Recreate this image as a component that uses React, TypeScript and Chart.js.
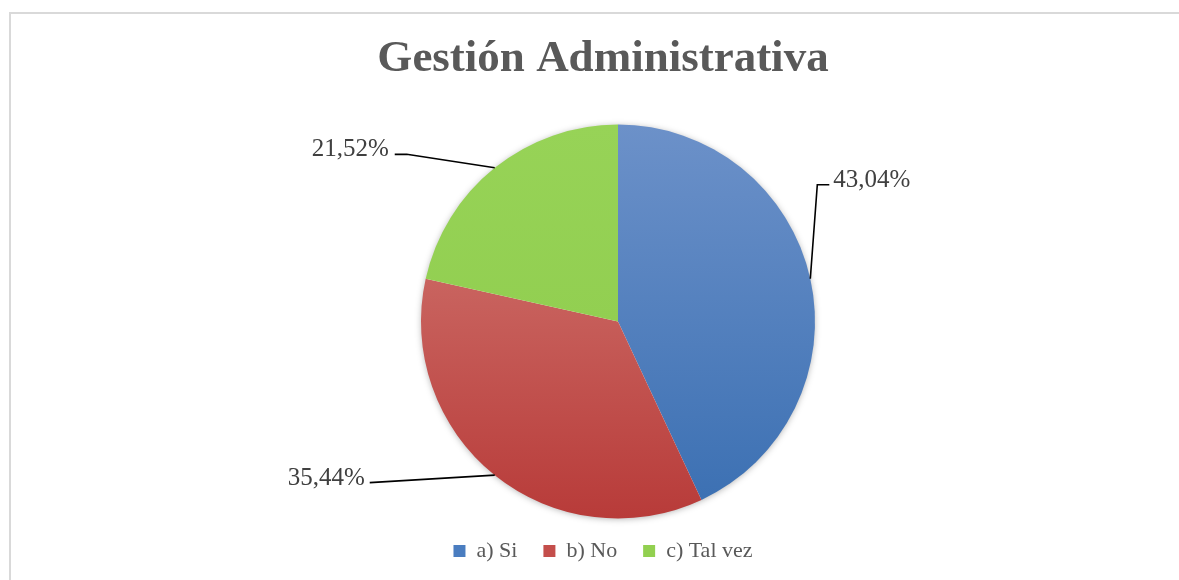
import React, { useEffect, useRef } from "react";
import { Chart, registerables } from "chart.js";

Chart.register(...registerables);

// ---- data ----
const categories = ["a) Si", "b) No", "c) Tal vez"];
const responses = [34, 28, 17];
const titleText = "Gestión Administrativa";

// ---- styles ----
const gradTop = ["#6c91c9", "#d47e78", "#97d357"];
const gradBottom = ["#3a6fb2", "#b83b39", "#8dcb4b"];
const legendColors = ["#4a7dc0", "#c44e4b", "#92d050"];
const FONT = "'Liberation Serif', 'Times New Roman', serif";
const PIE_RADIUS = 197;

// leader-line geometry relative to the slice's outer midpoint (style only)
const leaderStyle = [
  { pts: [[7, -94], [19, -94]], tx: 23, ty: -92, align: "left" },
  { pts: [[-125, 7.5]], tx: -130, ty: 9.5, align: "right" },
  { pts: [[-88, -13.5], [-100, -13.5]], tx: -106, ty: -11.5, align: "right" },
];

const fmtPct = (v: number, total: number) =>
  (v / total * 100).toFixed(2).replace(".", ",") + "%";

const framePlugin = {
  id: "frame",
  beforeDraw(chart: any) {
    const ctx = chart.ctx;
    ctx.save();
    ctx.fillStyle = "#ffffff";
    ctx.fillRect(0, 0, chart.width, chart.height);
    ctx.strokeStyle = "#d9d9d9";
    ctx.lineWidth = 2;
    ctx.beginPath();
    ctx.moveTo(10, chart.height);
    ctx.lineTo(10, 13);
    ctx.lineTo(chart.width, 13);
    ctx.stroke();
    ctx.restore();
  },
};

const shiftPlugin = {
  id: "shiftArea",
  afterLayout(chart: any) {
    chart.chartArea.left += 30;
    chart.chartArea.width = chart.chartArea.right - chart.chartArea.left;
  },
};

const shadowPlugin = {
  id: "pieShadow",
  beforeDatasetsDraw(chart: any) {
    const meta = chart.getDatasetMeta(0);
    const el = meta.data[0];
    if (!el) return;
    const ctx = chart.ctx;
    ctx.save();
    ctx.shadowColor = "rgba(0,0,0,0.35)";
    ctx.shadowBlur = 7;
    ctx.shadowOffsetX = 0;
    ctx.shadowOffsetY = 1;
    ctx.fillStyle = "#ffffff";
    ctx.beginPath();
    ctx.arc(el.x, el.y, el.outerRadius - 1, 0, Math.PI * 2);
    ctx.fill();
    ctx.restore();
  },
};

const leaderPlugin = {
  id: "leaders",
  afterDatasetsDraw(chart: any) {
    const ctx = chart.ctx;
    const meta = chart.getDatasetMeta(0);
    const data = chart.data.datasets[0].data as number[];
    const total = data.reduce((a, b) => a + b, 0);
    meta.data.forEach((arc: any, i: number) => {
      const { x, y, startAngle, endAngle, outerRadius } = arc.getProps(
        ["x", "y", "startAngle", "endAngle", "outerRadius"],
        true
      );
      const mid = (startAngle + endAngle) / 2;
      const ex = x + Math.cos(mid) * outerRadius;
      const ey = y + Math.sin(mid) * outerRadius;
      const st = leaderStyle[i];
      ctx.save();
      ctx.strokeStyle = "#000000";
      ctx.lineWidth = 1.6;
      ctx.beginPath();
      ctx.moveTo(ex, ey);
      st.pts.forEach((p) => ctx.lineTo(ex + p[0], ey + p[1]));
      ctx.stroke();
      ctx.fillStyle = "#404040";
      ctx.font = `25px ${FONT}`;
      ctx.textAlign = st.align as CanvasTextAlign;
      ctx.textBaseline = "alphabetic";
      ctx.fillText(fmtPct(data[i], total), ex + st.tx, ey + st.ty);
      ctx.restore();
    });
  },
};

export default function App() {
  const ref = useRef<HTMLCanvasElement | null>(null);

  useEffect(() => {
    if (!ref.current) return;
    const chart = new Chart(ref.current, {
      type: "pie",
      data: {
        labels: categories,
        datasets: [
          {
            data: responses,
            borderWidth: 0,
            radius: PIE_RADIUS,
            backgroundColor: (c: any) => {
              const ch = c.chart;
              const area = ch.chartArea;
              const i = c.dataIndex ?? 0;
              if (!area) return legendColors[i];
              const cy = (area.top + area.bottom) / 2;
              const g = ch.ctx.createLinearGradient(0, cy - PIE_RADIUS, 0, cy + PIE_RADIUS);
              g.addColorStop(0, gradTop[i]);
              g.addColorStop(1, gradBottom[i]);
              return g;
            },
          },
        ],
      },
      options: {
        responsive: false,
        maintainAspectRatio: false,
        animation: false,
        devicePixelRatio: 1,
        layout: { padding: { top: 20, bottom: 8, left: 37, right: 10 } },
        plugins: {
          title: {
            display: true,
            text: titleText,
            color: "#595959",
            font: { family: FONT, size: 45, weight: "bold", lineHeight: 1.2 },
            padding: { top: 12, bottom: 43 },
          },
          legend: {
            display: true,
            position: "bottom",
            labels: {
              boxWidth: 12,
              boxHeight: 12,
              padding: 26,
              color: "#595959",
              font: { family: FONT, size: 22 },
              generateLabels: (ch: any) =>
                ch.data.labels.map((t: string, i: number) => ({
                  text: t,
                  fillStyle: legendColors[i],
                  strokeStyle: legendColors[i],
                  lineWidth: 0,
                  hidden: false,
                  index: i,
                  fontColor: "#595959",
                })),
            },
          },
          tooltip: { enabled: false },
        },
      },
      plugins: [framePlugin, shiftPlugin, shadowPlugin, leaderPlugin],
    });
    return () => chart.destroy();
  }, []);

  return (
    <div style={{ position: "fixed", left: 0, top: 0, width: 1179, height: 580 }}>
      <canvas ref={ref} width={1179} height={580} style={{ display: "block" }} />
    </div>
  );
}
